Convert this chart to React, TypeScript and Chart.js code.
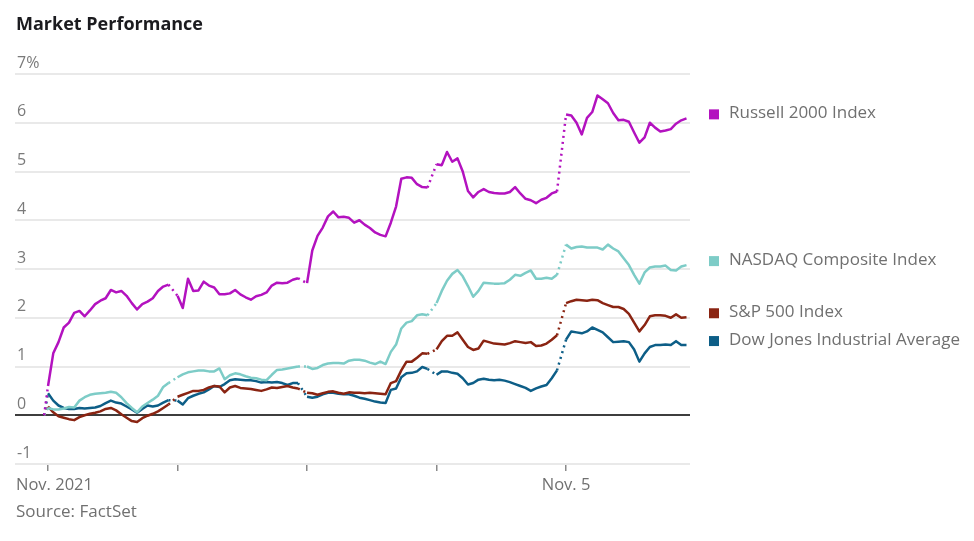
import { useEffect, useRef } from "react";
import { Chart, registerables } from "chart.js";

Chart.register(...registerables);

const TITLE = "Market Performance";
const SOURCE = "Source: FactSet";
const FONT = "'Open Sans', Roboto, sans-serif";
const GRAY = "#707070";

const SERIES_NAMES = [
  "Russell 2000 Index",
  "NASDAQ Composite Index",
  "S&P 500 Index",
  "Dow Jones Industrial Average",
];
const SERIES_COLORS = ["#b312bf", "#7dccc7", "#8a2412", "#0d5e87"];

// x positions: day index (0 = Nov. 1 ... 4 = Nov. 5); each day is sampled evenly over its session
const X_TICKS = [0, 1, 2, 3, 4];
const X_TICK_LABELS = ["Nov. 2021", "", "", "", "Nov. 5"];
const Y_TICKS = [-1, 0, 1, 2, 3, 4, 5, 6, 7];
const X_MIN = -0.255;
const X_MAX = 4.957;
const SESSION_SPAN = 0.93;
const PRIOR_CLOSE_X = -0.03;

const RUSSELL: number[][] = [
  [0.6, 1.27, 1.5, 1.8, 1.9, 2.1, 2.14, 2.03, 2.15, 2.28, 2.35, 2.4, 2.57, 2.52, 2.55, 2.45, 2.3, 2.17, 2.28, 2.33, 2.4, 2.55, 2.64, 2.68],
  [2.45, 2.2, 2.8, 2.55, 2.56, 2.74, 2.66, 2.62, 2.48, 2.48, 2.5, 2.57, 2.48, 2.42, 2.37, 2.44, 2.47, 2.52, 2.66, 2.72, 2.71, 2.72, 2.78, 2.81],
  [2.71, 3.38, 3.68, 3.85, 4.08, 4.18, 4.06, 4.07, 4.05, 3.95, 4.0, 3.91, 3.84, 3.75, 3.7, 3.67, 3.95, 4.28, 4.85, 4.88, 4.87, 4.74, 4.68, 4.67],
  [5.15, 5.13, 5.4, 5.2, 5.27, 5.0, 4.6, 4.47, 4.58, 4.64, 4.58, 4.56, 4.55, 4.55, 4.58, 4.68, 4.55, 4.44, 4.41, 4.35, 4.42, 4.46, 4.55, 4.59],
  [6.17, 6.15, 6.0, 5.76, 6.1, 6.22, 6.56, 6.48, 6.4, 6.2, 6.05, 6.06, 6.02, 5.8, 5.59, 5.7, 6.0, 5.9, 5.82, 5.84, 5.87, 5.98, 6.05, 6.09],
];

const NASDAQ: number[][] = [
  [0.15, 0.12, 0.12, 0.14, 0.17, 0.16, 0.3, 0.37, 0.42, 0.44, 0.45, 0.46, 0.48, 0.46, 0.37, 0.25, 0.15, 0.06, 0.18, 0.25, 0.32, 0.4, 0.58, 0.66],
  [0.78, 0.84, 0.88, 0.9, 0.92, 0.92, 0.9, 0.9, 0.96, 0.74, 0.82, 0.86, 0.84, 0.8, 0.77, 0.76, 0.73, 0.72, 0.83, 0.93, 0.94, 0.96, 0.98, 1.0],
  [1.0, 0.95, 0.97, 1.03, 1.06, 1.07, 1.07, 1.06, 1.12, 1.14, 1.14, 1.12, 1.08, 1.05, 1.1, 1.05, 1.3, 1.45, 1.78, 1.9, 1.93, 2.05, 2.07, 2.05],
  [2.3, 2.55, 2.76, 2.9, 2.98, 2.85, 2.65, 2.43, 2.55, 2.72, 2.71, 2.7, 2.7, 2.71, 2.78, 2.88, 2.86, 2.92, 2.97, 2.8, 2.8, 2.82, 2.8, 2.88],
  [3.5, 3.42, 3.45, 3.46, 3.44, 3.44, 3.44, 3.4, 3.5, 3.42, 3.36, 3.22, 3.08, 2.88, 2.7, 2.93, 3.03, 3.05, 3.05, 3.07, 2.98, 2.97, 3.05, 3.08],
];

const SP500: number[][] = [
  [0.18, 0.06, -0.02, -0.05, -0.08, -0.1, -0.04, 0.0, 0.03, 0.05, 0.08, 0.13, 0.15, 0.1, 0.02, -0.05, -0.12, -0.14, -0.06, -0.01, 0.03, 0.08, 0.15, 0.22],
  [0.38, 0.42, 0.46, 0.5, 0.5, 0.52, 0.57, 0.6, 0.59, 0.47, 0.57, 0.6, 0.56, 0.55, 0.54, 0.52, 0.5, 0.53, 0.57, 0.56, 0.58, 0.6, 0.57, 0.55],
  [0.46, 0.45, 0.42, 0.45, 0.48, 0.49, 0.46, 0.44, 0.47, 0.46, 0.46, 0.45, 0.46, 0.45, 0.44, 0.43, 0.66, 0.7, 0.92, 1.1, 1.1, 1.18, 1.27, 1.26],
  [1.35, 1.52, 1.63, 1.63, 1.7, 1.55, 1.4, 1.34, 1.37, 1.53, 1.5, 1.47, 1.46, 1.45, 1.48, 1.52, 1.5, 1.48, 1.5, 1.42, 1.43, 1.47, 1.55, 1.64],
  [2.3, 2.34, 2.37, 2.36, 2.35, 2.37, 2.36, 2.3, 2.26, 2.22, 2.22, 2.18, 2.08, 1.9, 1.72, 1.85, 2.03, 2.05, 2.05, 2.04, 2.0, 2.07, 2.0, 2.01],
];

const DOW: number[][] = [
  [0.45, 0.3, 0.2, 0.15, 0.13, 0.13, 0.15, 0.14, 0.15, 0.16, 0.19, 0.25, 0.3, 0.26, 0.24, 0.18, 0.12, 0.05, 0.13, 0.2, 0.18, 0.2, 0.26, 0.31],
  [0.3, 0.22, 0.35, 0.4, 0.44, 0.47, 0.53, 0.6, 0.58, 0.64, 0.72, 0.74, 0.73, 0.72, 0.72, 0.7, 0.67, 0.68, 0.67, 0.68, 0.66, 0.62, 0.66, 0.66],
  [0.38, 0.36, 0.38, 0.43, 0.46, 0.46, 0.44, 0.43, 0.43, 0.4, 0.36, 0.34, 0.31, 0.28, 0.26, 0.25, 0.52, 0.55, 0.78, 0.86, 0.87, 0.9, 0.99, 0.95],
  [0.83, 0.9, 0.9, 0.87, 0.85, 0.76, 0.63, 0.66, 0.73, 0.75, 0.73, 0.72, 0.73, 0.71, 0.68, 0.64, 0.6, 0.56, 0.5, 0.55, 0.59, 0.62, 0.76, 0.92],
  [1.55, 1.72, 1.7, 1.68, 1.72, 1.8, 1.75, 1.7, 1.6, 1.5, 1.51, 1.52, 1.5, 1.35, 1.1, 1.27, 1.4, 1.44, 1.44, 1.45, 1.44, 1.52, 1.44, 1.44],
];

const SERIES_VALUES = [RUSSELL, NASDAQ, SP500, DOW];

function buildPoints(days: number[][]) {
  const pts: { x: number; y: number }[] = [{ x: PRIOR_CLOSE_X, y: 0 }];
  const gapStarts = new Set<number>();
  days.forEach((vals, d) => {
    gapStarts.add(pts.length);
    vals.forEach((v, i) => {
      pts.push({ x: d + (SESSION_SPAN * i) / (vals.length - 1), y: v });
    });
  });
  return { pts, gapStarts };
}

const annotationPlugin = {
  id: "annotations",
  afterDraw(chart: any) {
    const ctx = chart.ctx as CanvasRenderingContext2D;
    const xs = chart.scales.x;
    const ys = chart.scales.y;
    ctx.save();
    ctx.textBaseline = "middle";
    ctx.textAlign = "left";
    ctx.fillStyle = "#1b1b1f";
    ctx.font = `bold 18px ${FONT}`;
    ctx.fillText(TITLE, 16, 25);

    ctx.font = `16.5px ${FONT}`;
    ctx.fillStyle = GRAY;
    X_TICK_LABELS.forEach((lab, i) => {
      if (!lab) return;
      const px = xs.getPixelForValue(X_TICKS[i]);
      const w = ctx.measureText(lab).width;
      ctx.fillText(lab, Math.max(16, px - w / 2), 485);
    });
    ctx.font = `17px ${FONT}`;
    ctx.fillText(SOURCE, 16, 512);

    chart.data.datasets.forEach((ds: any) => {
      const last = ds.data[ds.data.length - 1].y;
      const py = ys.getPixelForValue(last) - 5;
      ctx.fillStyle = ds.borderColor;
      ctx.fillRect(709, py - 4, 10, 10);
      ctx.fillStyle = GRAY;
      ctx.fillText(ds.label, 729, py);
    });
    ctx.restore();
  },
};

export default function App() {
  const canvasRef = useRef<HTMLCanvasElement | null>(null);

  useEffect(() => {
    const canvas = canvasRef.current;
    if (!canvas) return;
    const datasets = SERIES_NAMES.map((name, idx) => {
      const { pts, gapStarts } = buildPoints(SERIES_VALUES[idx]);
      return {
        label: name,
        data: pts,
        borderColor: SERIES_COLORS[idx],
        backgroundColor: SERIES_COLORS[idx],
        borderWidth: 2.5,
        pointRadius: 0,
        tension: 0,
        borderJoinStyle: "round" as const,
        segment: {
          borderDash: (c: any) => (gapStarts.has(c.p1DataIndex) ? [2, 4] : undefined),
        },
      };
    });

    const chart = new Chart(canvas, {
      type: "line",
      data: { datasets },
      options: {
        animation: false,
        responsive: false,
        maintainAspectRatio: false,
        events: [],
        layout: { padding: { left: 15, right: 284, top: 74, bottom: 70 } },
        plugins: {
          legend: { display: false },
          tooltip: { enabled: false },
          title: { display: false },
        },
        scales: {
          x: {
            type: "linear",
            min: X_MIN,
            max: X_MAX,
            border: { display: false },
            grid: {
              drawOnChartArea: false,
              drawTicks: true,
              tickLength: 7,
              color: "#8a8a8a",
              lineWidth: 1.5,
            },
            ticks: { display: false },
            afterBuildTicks: (s: any) => {
              s.ticks = X_TICKS.map((v) => ({ value: v }));
            },
            afterFit: (s: any) => {
              s.height = 7;
            },
          },
          y: {
            type: "linear",
            min: -1,
            max: 7,
            border: { display: false },
            grid: {
              drawTicks: false,
              color: (c: any) => (c.tick && c.tick.value === 0 ? "#3e3e3e" : "#e9e9e9"),
              lineWidth: 2,
            },
            ticks: {
              mirror: true,
              padding: 2,
              labelOffset: -11,
              color: "#7a7a7a",
              font: { family: FONT, size: 16 },
              callback: (v: any) => (v === 7 ? "7%" : String(v)),
            },
            afterBuildTicks: (s: any) => {
              s.ticks = Y_TICKS.map((v) => ({ value: v }));
            },
            afterFit: (s: any) => {
              s.width = 0;
            },
          },
        },
      },
      plugins: [annotationPlugin],
    });
    return () => chart.destroy();
  }, []);

  return (
    <div style={{ position: "fixed", left: 0, top: 0, width: 974, height: 541, background: "#fff" }}>
      <canvas ref={canvasRef} width={974} height={541} style={{ width: 974, height: 541 }} />
    </div>
  );
}
